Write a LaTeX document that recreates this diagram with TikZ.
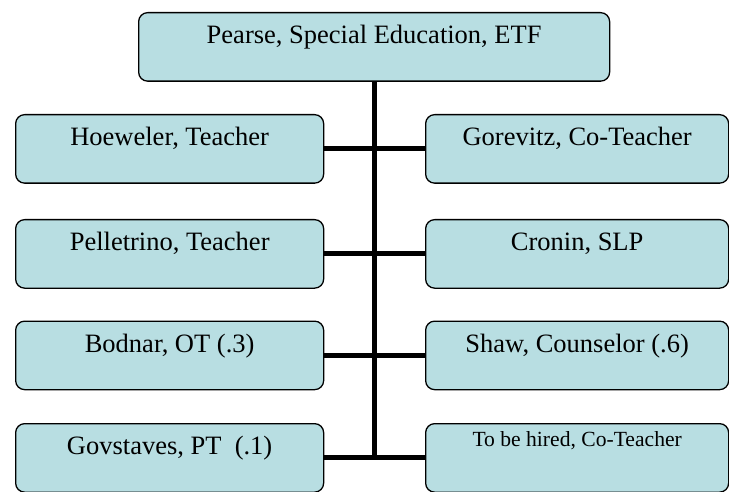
\documentclass[tikz,border=0pt]{standalone}
\usepackage{fontspec}
\setmainfont{Liberation Serif}
\definecolor{boxfill}{RGB}{184,222,226}
\tikzset{
  box/.style={draw=black, line width=1.3pt, fill=boxfill, rounded corners=9pt,
    inner xsep=0pt, inner ysep=0pt, text height=31pt, text depth=37.5pt,
    font=\fontsize{26.5}{30}\selectfont, align=center},
  lbox/.style={box, minimum width=308pt, anchor=north west},
  rbox/.style={box, minimum width=303pt, anchor=north west},
  trunk/.style={line width=5pt},
  branch/.style={line width=5pt}
}
\begin{document}
\begin{tikzpicture}[x=1pt,y=-1pt]
\useasboundingbox (0,0) rectangle (729,492);
\node[box, minimum width=471pt, anchor=north west] (top) at (138,12) {Pearse, Special Education, ETF};
\node[lbox] (hoe) at (15,114) {Hoeweler, Teacher};
\node[rbox] (gor) at (425,114) {Gorevitz, Co-Teacher};
\node[lbox] (pel) at (15,219) {Pelletrino, Teacher};
\node[rbox] (cro) at (425,219) {Cronin, SLP};
\node[lbox] (bod) at (15,320.5) {Bodnar, OT (.3)};
\node[rbox] (sha) at (425,320.5) {Shaw, Counselor (.6)};
\node[lbox] (gov) at (15,423) {Govstaves, PT\ \ (.1)};
\node[rbox, text height=23pt, text depth=45.5pt, font=\fontsize{21.6}{25}\selectfont] (tbh) at (425,423) {To be hired, Co-Teacher};
\coordinate (tb) at (top.south |- gov.east);
\draw[trunk] (top.south) -- ([yshift=-2.5pt]tb);
\draw[branch] (hoe.east) -- (gor.west);
\draw[branch] (pel.east) -- (cro.west);
\draw[branch] (bod.east) -- (sha.west);
\draw[branch] (gov.east) -- (tbh.west);
\end{tikzpicture}
\end{document}
